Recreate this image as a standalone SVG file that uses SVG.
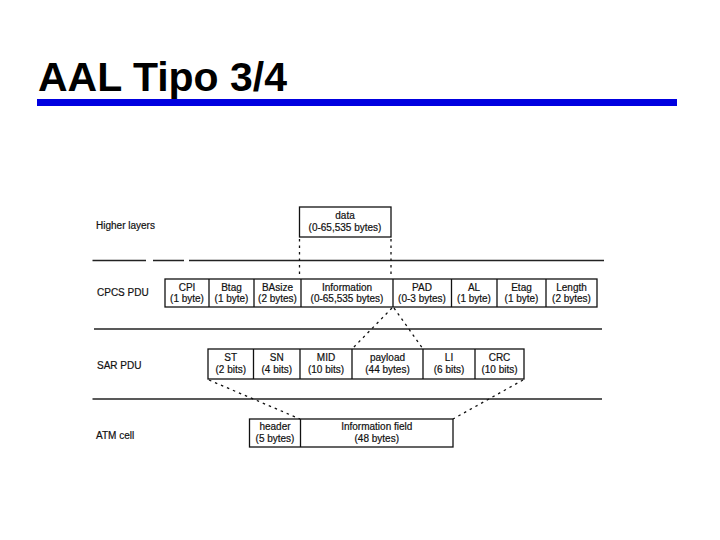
<svg xmlns="http://www.w3.org/2000/svg" width="720" height="540" viewBox="0 0 720 540">
<style>
.t{font-family:"Liberation Sans",Arial,sans-serif;font-size:10px;fill:#111;stroke:#111;stroke-width:0.2;text-anchor:middle}
.lbl{font-family:"Liberation Sans",Arial,sans-serif;font-size:10px;fill:#111;stroke:#111;stroke-width:0.2}
.box{fill:#fff;stroke:#111;stroke-width:1.3}
.div{stroke:#111;stroke-width:1.3}
.rule{stroke:#222;stroke-width:1.5;fill:none}
.dot{stroke:#111;stroke-width:1.3;stroke-dasharray:2.5 4;fill:none}
</style>
<rect width="720" height="540" fill="#fff"/>
<text x="38" y="91" font-family="Liberation Sans,Arial,sans-serif" font-weight="bold" font-size="40" fill="#000" textLength="249" lengthAdjust="spacingAndGlyphs">AAL Tipo 3/4</text>
<rect x="37" y="99" width="640" height="7" fill="#0000e0"/>

<g id="layer-lines">
<path class="rule" d="M92.5 260.5H146M153 260.5H184M189 260.5H604"/>
<path class="rule" d="M94 329H602"/>
<path class="rule" d="M92.5 399H602"/>
</g>

<g id="labels">
<text class="lbl" x="96" y="229">Higher layers</text>
<text class="lbl" x="97" y="296">CPCS PDU</text>
<text class="lbl" x="97" y="369">SAR PDU</text>
<text class="lbl" x="96" y="439">ATM cell</text>
</g>

<g id="data">
<rect class="box" x="299.5" y="207" width="91.5" height="30"/>
<text class="t" x="345" y="219">data</text>
<text class="t" x="345" y="231">(0-65,535 bytes)</text>
</g>

<g id="cpcs-pdu">
<rect class="box" x="165" y="279" width="432" height="28"/>
<path class="div" d="M209 279V307M254 279V307M301 279V307M393 279V307M451.5 279V307M497 279V307M546 279V307"/>
<text class="t" x="187" y="290.5">CPI</text><text class="t" x="187" y="302">(1 byte)</text>
<text class="t" x="231.5" y="290.5">Btag</text><text class="t" x="231.5" y="302">(1 byte)</text>
<text class="t" x="277.5" y="290.5">BAsize</text><text class="t" x="277.5" y="302">(2 bytes)</text>
<text class="t" x="347" y="290.5">Information</text><text class="t" x="347" y="302">(0-65,535 bytes)</text>
<text class="t" x="422" y="290.5">PAD</text><text class="t" x="422" y="302">(0-3 bytes)</text>
<text class="t" x="474" y="290.5">AL</text><text class="t" x="474" y="302">(1 byte)</text>
<text class="t" x="521.5" y="290.5">Etag</text><text class="t" x="521.5" y="302">(1 byte)</text>
<text class="t" x="571.5" y="290.5">Length</text><text class="t" x="571.5" y="302">(2 bytes)</text>
</g>

<g id="sar-pdu">
<rect class="box" x="208" y="349" width="316" height="30"/>
<path class="div" d="M253.5 349V379M300 349V379M352 349V379M423 349V379M475 349V379"/>
<text class="t" x="230.75" y="361">ST</text><text class="t" x="230.75" y="373">(2 bits)</text>
<text class="t" x="276.75" y="361">SN</text><text class="t" x="276.75" y="373">(4 bits)</text>
<text class="t" x="326" y="361">MID</text><text class="t" x="326" y="373">(10 bits)</text>
<text class="t" x="387.5" y="361">payload</text><text class="t" x="387.5" y="373">(44 bytes)</text>
<text class="t" x="449" y="361">LI</text><text class="t" x="449" y="373">(6 bits)</text>
<text class="t" x="499.5" y="361">CRC</text><text class="t" x="499.5" y="373">(10 bits)</text>
</g>

<g id="atm-cell">
<rect class="box" x="249.5" y="419" width="203.5" height="28"/>
<path class="div" d="M300.5 419V447"/>
<text class="t" x="275" y="430">header</text><text class="t" x="275" y="441.5">(5 bytes)</text>
<text class="t" x="376.75" y="430">Information field</text><text class="t" x="376.75" y="441.5">(48 bytes)</text>
</g>

<g id="connectors">
<path class="dot" d="M299.5 239V278M391 239V278"/>
<path class="dot" d="M392 308L352 349M394 308L423 349"/>
<path class="dot" d="M209 380L300 419M523 380L453 419"/>
</g>
</svg>
